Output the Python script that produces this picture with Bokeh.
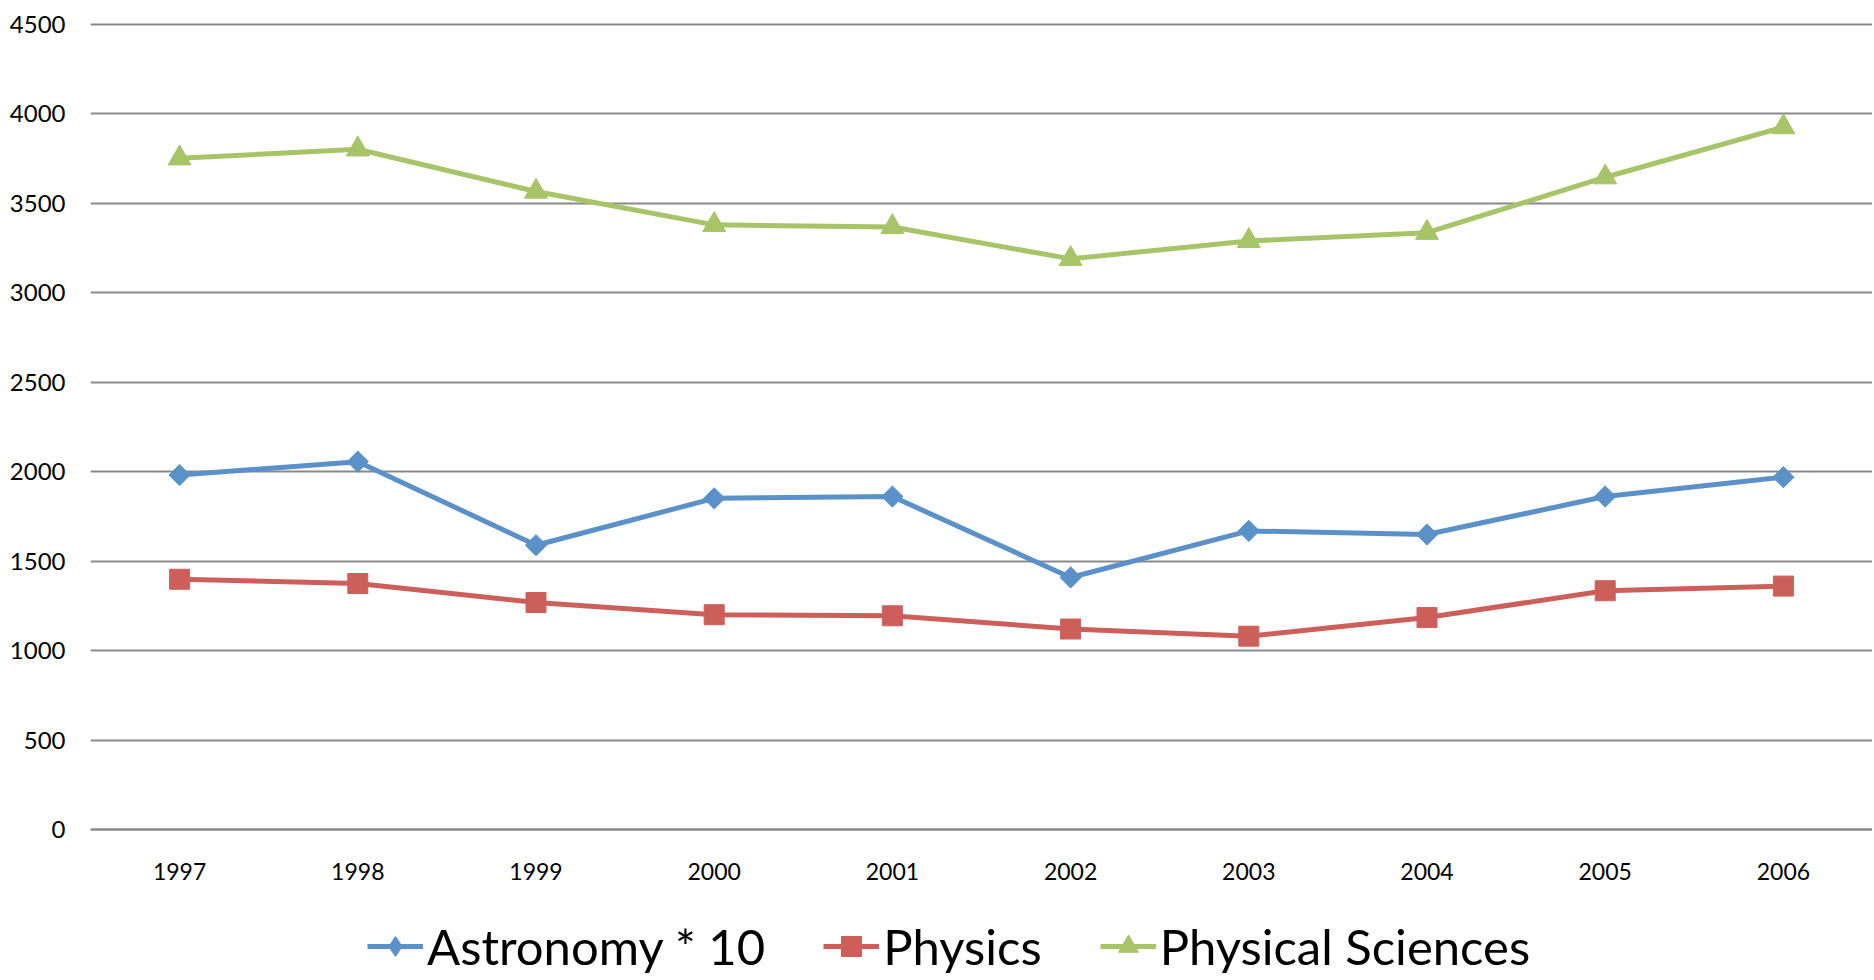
import numpy as np
from bokeh.plotting import figure
from bokeh.models import Range1d, FixedTicker, Legend, LegendItem, CustomJSTickFormatter
from bokeh.embed import file_html
from bokeh.resources import INLINE

years = [1997, 1998, 1999, 2000, 2001, 2002, 2003, 2004, 2005, 2006]
astronomy_x10 = [1980, 2055, 1588, 1850, 1860, 1408, 1668, 1648, 1860, 1968]
physics = [1398, 1374, 1268, 1200, 1194, 1120, 1080, 1184, 1334, 1360]
physical_sciences = [3750, 3800, 3564, 3378, 3366, 3188, 3288, 3334, 3644, 3924]
y_ticks = [0, 500, 1000, 1500, 2000, 2500, 3000, 3500, 4000, 4500]
series_names = ["Astronomy * 10", "Physics", "Physical Sciences"]

BLUE = "#5A91C8"
RED = "#CD5F5A"
GREEN = "#A7C468"
GRID = "#898989"
FONT = "Lato"

# frame: top at 20px, value 0 at 829px, 4500 at 23.5px, bottom at 976px
PX_PER_UNIT = (829 - 23.5) / 4500.0
Y_TOP = (829 - 20) / PX_PER_UNIT
Y_BOTTOM = -(976 - 829) / PX_PER_UNIT

p = figure(width=1872, height=976, output_backend="svg", toolbar_location=None,
           x_range=Range1d(1996.5, 2006.5), y_range=Range1d(Y_BOTTOM, Y_TOP),
           min_border_left=90, min_border_right=0, min_border_top=20, min_border_bottom=0)
p.outline_line_color = None
p.background_fill_color = "white"
p.border_fill_color = "white"

# axes
p.xaxis.fixed_location = 0
p.xaxis.ticker = FixedTicker(ticks=years)
p.xaxis.formatter = CustomJSTickFormatter(code="return tick.toFixed(0);")
p.xaxis.major_label_text_font = FONT
p.xaxis.major_label_text_font_size = "23px"
p.xaxis.major_label_text_color = "#000000"
p.xaxis.major_label_standoff = 27
p.xaxis.major_tick_line_color = None
p.xaxis.minor_tick_line_color = None
p.xaxis.axis_line_color = GRID
p.xaxis.axis_line_width = 2

p.yaxis.ticker = FixedTicker(ticks=y_ticks)
p.yaxis.major_label_text_font = FONT
p.yaxis.major_label_text_font_size = "24px"
p.yaxis.major_label_text_color = "#000000"
p.yaxis.major_label_standoff = 19
p.yaxis.major_tick_line_color = None
p.yaxis.minor_tick_line_color = None
p.yaxis.axis_line_color = None

p.xgrid.grid_line_color = None
p.ygrid.ticker = FixedTicker(ticks=y_ticks)
p.ygrid.grid_line_color = GRID
p.ygrid.grid_line_width = 2

lw = 5
l1 = p.line(years, astronomy_x10, line_color=BLUE, line_width=lw)
m1 = p.scatter(years, astronomy_x10, marker="square", angle=np.pi / 4, size=15,
               fill_color=BLUE, line_color=BLUE)
# diamond-shaped marker used only for the legend swatch (legend ignores marker angle)
m1_key = p.scatter(years, astronomy_x10, marker="diamond", size=20,
                   fill_color=BLUE, line_color=BLUE, visible=False)
l2 = p.line(years, physics, line_color=RED, line_width=lw)
m2 = p.scatter(years, physics, marker="square", size=20, fill_color=RED, line_color=RED)
l3 = p.line(years, physical_sciences, line_color=GREEN, line_width=lw)
m3 = p.scatter(years, physical_sciences, marker="triangle", size=23,
               fill_color=GREEN, line_color=GREEN)

legend = Legend(items=[
    LegendItem(label=series_names[0], renderers=[l1, m1_key]),
    LegendItem(label=series_names[1], renderers=[l2, m2]),
    LegendItem(label=series_names[2], renderers=[l3, m3]),
], orientation="horizontal", location=(277, 1))
legend.label_text_font = FONT
legend.label_text_font_size = "49px"
legend.label_text_color = "#000000"
legend.glyph_width = 56
legend.glyph_height = 50
legend.label_standoff = 4
legend.spacing = 58
legend.padding = 0
legend.margin = 0
legend.border_line_color = None
legend.background_fill_alpha = 0
p.add_layout(legend, "center")

open("out.html", "w").write(file_html(p, INLINE))
